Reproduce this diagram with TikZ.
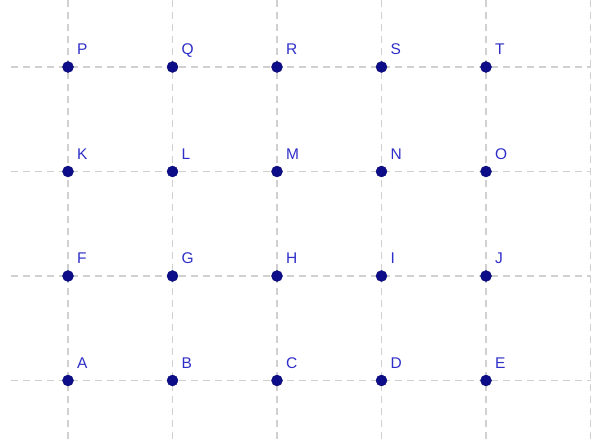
\documentclass[tikz,border=0pt]{standalone}
\usepackage{fontspec}
\setmainfont{Liberation Sans}
\definecolor{gridgray}{HTML}{D0D0D0}
\definecolor{dotblue}{HTML}{0D0D8A}
\definecolor{labblue}{HTML}{2E2EC8}
\begin{document}
\begin{tikzpicture}[x=1pt,y=-1pt,
  gridline/.style={draw=gridgray,line width=1.4pt,dash pattern=on 7pt off 5pt},
  pt/.style={circle,fill=dotblue,draw=dotblue!80!black,line width=0.4pt,minimum size=11pt,inner sep=0pt},
  lab/.style={text=labblue,font=\fontsize{15.5}{15.5}\selectfont,inner sep=0pt,anchor=base west}]
\useasboundingbox (0,0) rectangle (598,443);
% vertical grid lines
\foreach \x in {68,172.5,277,381.5,486,590.5}
  \draw[gridline] (\x,0) -- (\x,443);
% horizontal grid lines
\foreach \y in {67,171.5,276,380.5}
  \draw[gridline] (11,\y) -- (590.5,\y);
% points
\foreach \n/\x/\y in {P/68/67,Q/172.5/67,R/277/67,S/381.5/67,T/486/67,
  K/68/171.5,L/172.5/171.5,M/277/171.5,N/381.5/171.5,O/486/171.5,
  F/68/276,G/172.5/276,H/277/276,I/381.5/276,J/486/276,
  A/68/380.5,B/172.5/380.5,C/277/380.5,D/381.5/380.5,E/486/380.5}
{
  \node[pt] (\n) at (\x,\y) {};
  \node[lab] (lab\n) at (\x+9,\y-12) {\n};
}
\end{tikzpicture}
\end{document}
